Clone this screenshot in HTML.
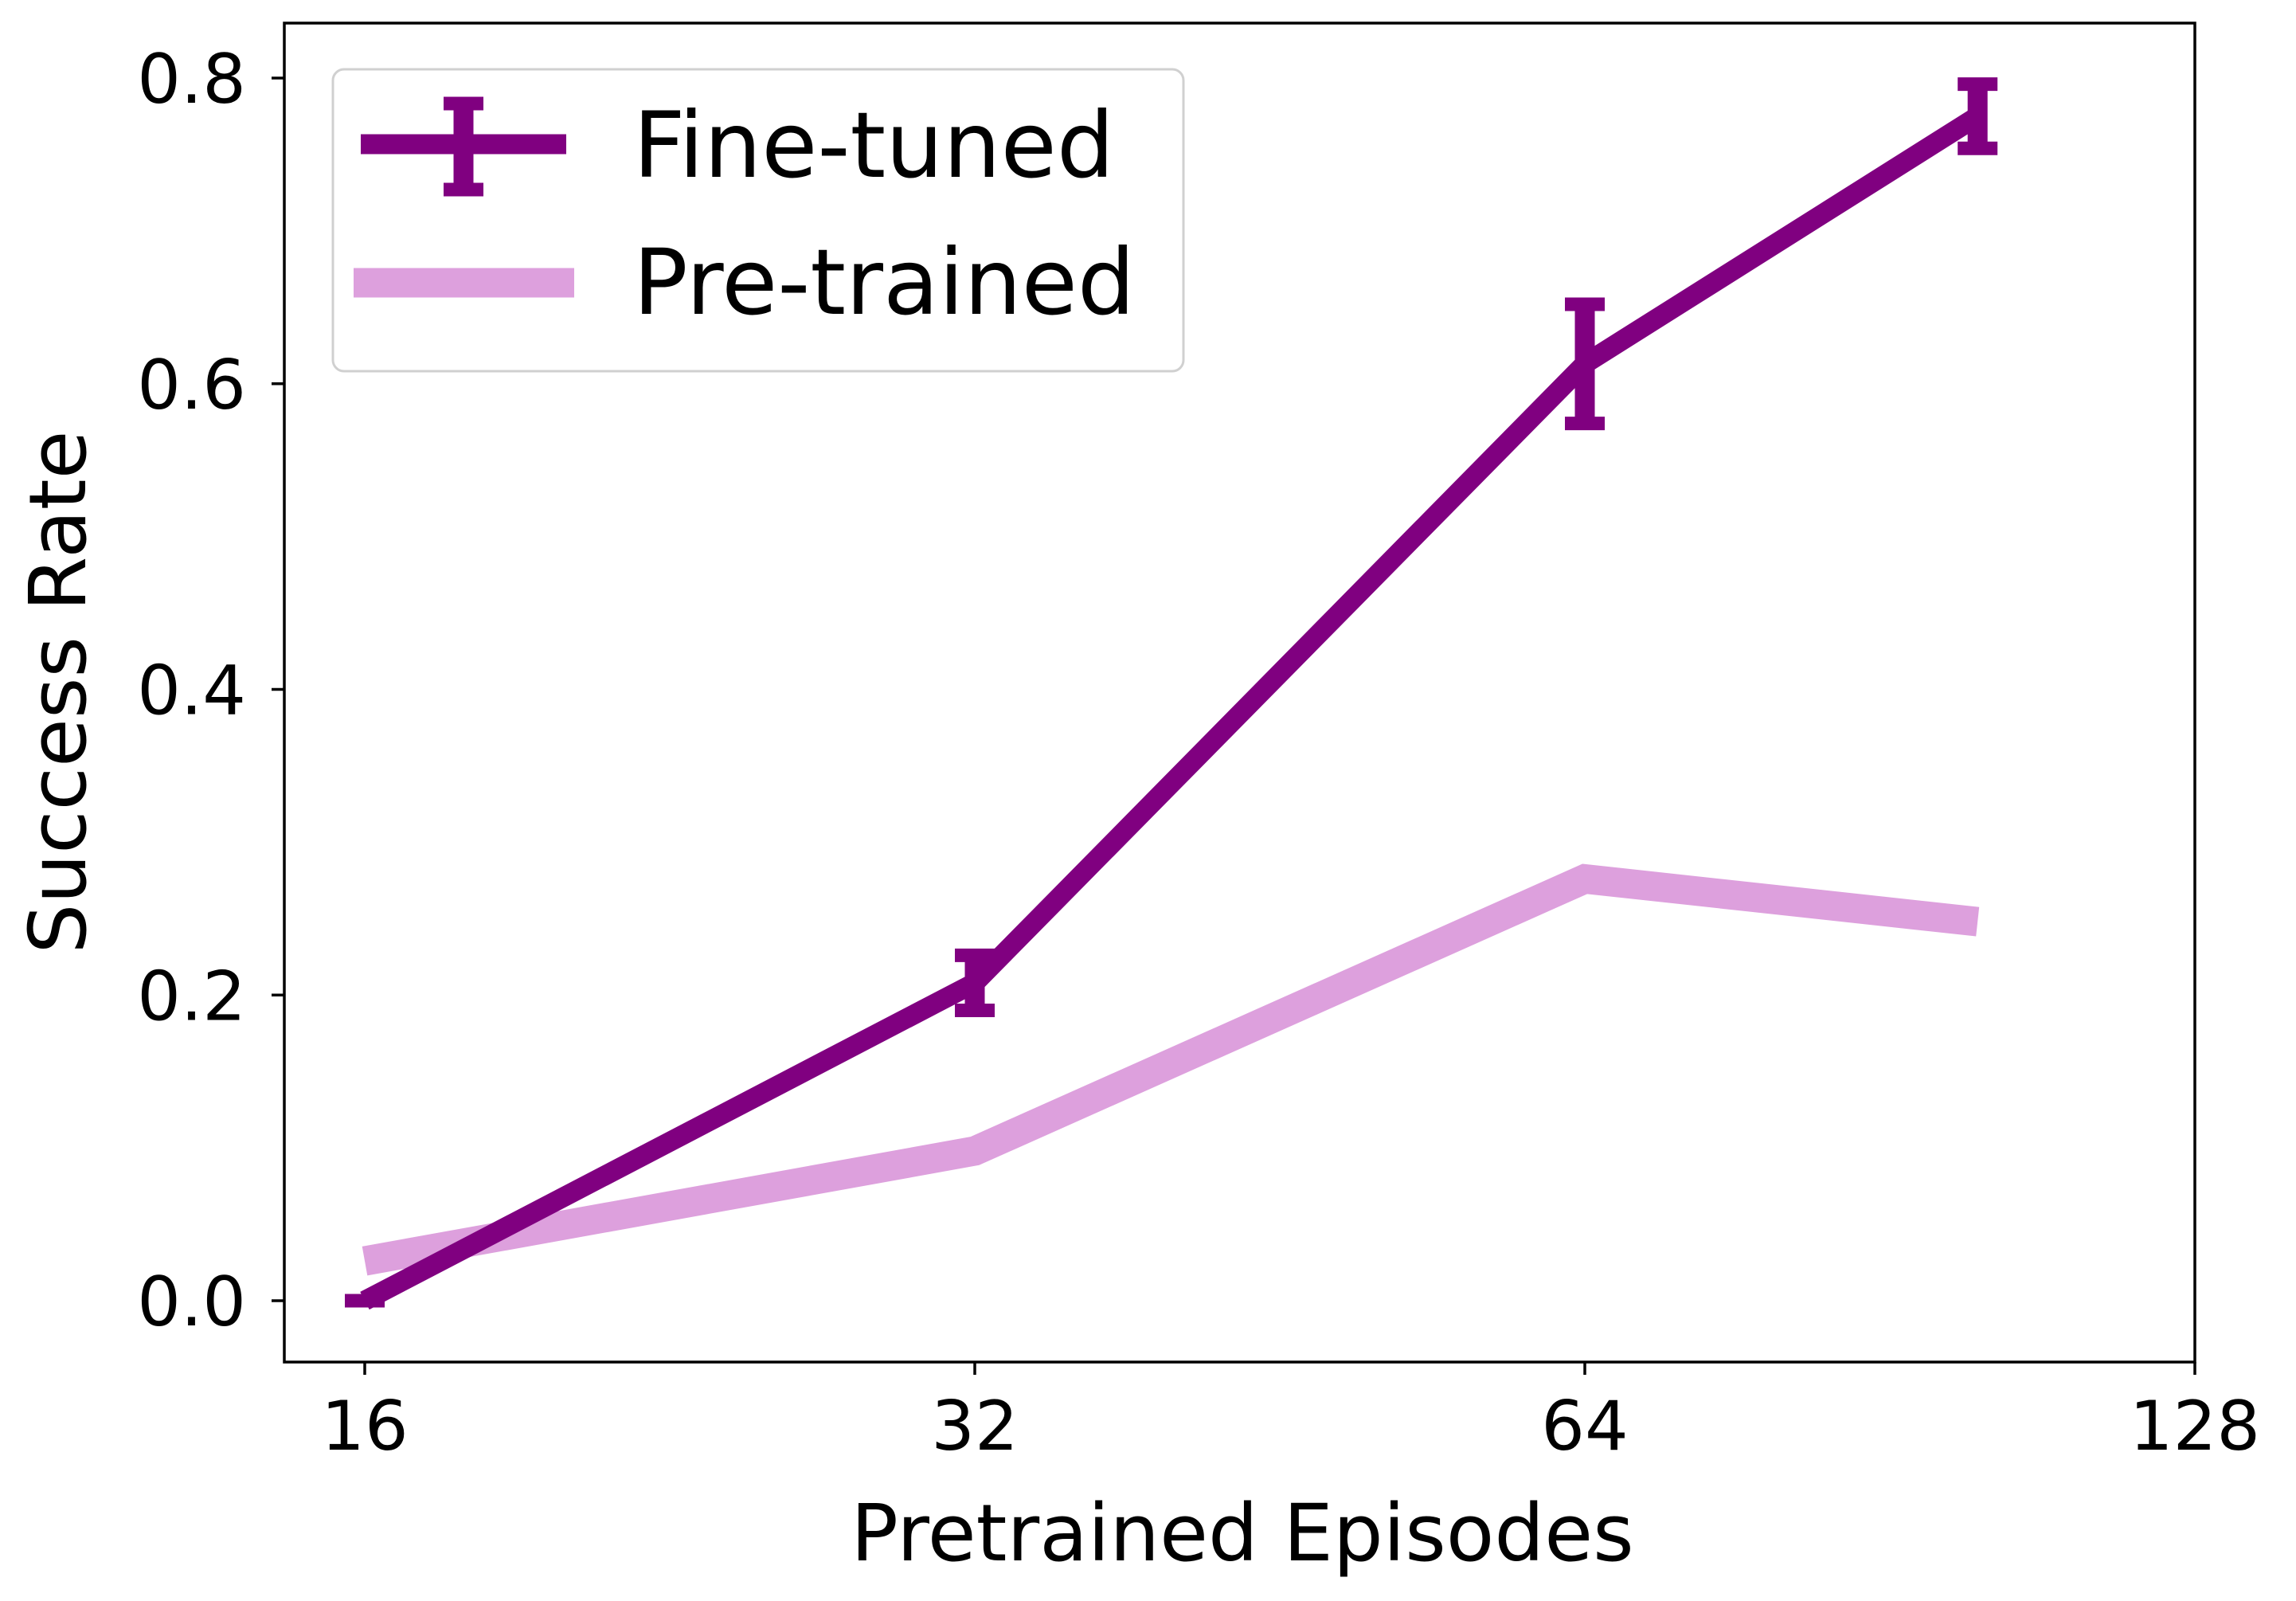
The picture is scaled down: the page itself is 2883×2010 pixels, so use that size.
<!DOCTYPE html>
<html><head><meta charset="utf-8"><style>
html,body{margin:0;padding:0;background:#fff;}
svg text{font-family:"DejaVu Sans","Liberation Sans",sans-serif;fill:#000;}
</style></head><body>
<svg id="chart" width="2883" height="2005" viewBox="0 0 2883 2005" xmlns="http://www.w3.org/2000/svg">
<rect x="0" y="0" width="2883" height="2005" fill="#fff"/>
<g id="plot"></g>
<g id="axes"></g>
<g>
  <rect x="418" y="87" width="1068" height="379" rx="14" fill="#fff" fill-opacity="0.8" stroke="#d0d0d0" stroke-width="3"/>
  <g>
    <line x1="453" y1="181" x2="711" y2="181" stroke="#800080" stroke-width="25"/>
    <line x1="582" y1="122" x2="582" y2="246" stroke="#800080" stroke-width="25"/>
    <line x1="557" y1="130" x2="607" y2="130" stroke="#800080" stroke-width="17"/>
    <line x1="557" y1="238" x2="607" y2="238" stroke="#800080" stroke-width="17"/>
    <text x="795" y="222" font-size="114">Fine-tuned</text>
  </g>
  <g>
    <line x1="444" y1="355" x2="721" y2="355" stroke="#dda0dd" stroke-width="37"/>
    <text x="795" y="394" font-size="114">Pre-trained</text>
  </g>
</g>
</svg>
<script>
const xCategories = [16, 32, 64, 100];
const fineTuned = [0.0, 0.208, 0.613, 0.775];
const fineTunedErr = [0.0, 0.018, 0.039, 0.021];
const preTrained = [0.026, 0.098, 0.276, 0.248];
const yTicks = [0.0, 0.2, 0.4, 0.6, 0.8];
const yTickLabels = ["0.0", "0.2", "0.4", "0.6", "0.8"];
const xTicks = [16, 32, 64, 128];
const xTickLabels = ["16", "32", "64", "128"];

const NS = "http://www.w3.org/2000/svg";
const L = 357, R = 2756, T = 29, B = 1710;
function xs(v){ return 458 + (Math.log2(v) - 4) * 766; }
function ys(v){ return 1633 - v * 1918.75; }
function mk(tag, attrs, parent){
  const e = document.createElementNS(NS, tag);
  for (const k in attrs) e.setAttribute(k, attrs[k]);
  parent.appendChild(e);
  return e;
}
const plot = document.getElementById('plot');
const axes = document.getElementById('axes');

// pre-trained line
const pre = mk('polyline', {points: preTrained.map((v,i)=>xs(xCategories[i])+','+ys(v)).join(' '), fill:'none', stroke:'#dda0dd', 'stroke-width':37, 'stroke-linejoin':'miter'}, plot);



// fine-tuned line
const ft = mk('polyline', {points: fineTuned.map((v,i)=>xs(xCategories[i])+','+ys(v)).join(' '), fill:'none', stroke:'#800080', 'stroke-width':25, 'stroke-linejoin':'miter'}, plot);



// error bars
fineTuned.forEach((v,i)=>{
  const x = xs(xCategories[i]);
  const y1 = ys(v + fineTunedErr[i]), y2 = ys(v - fineTunedErr[i]);
  const g = mk('g', {}, plot);
  
  
  mk('line', {x1:x, y1:y1, x2:x, y2:y2, stroke:'#800080', 'stroke-width':25}, g);
  mk('line', {x1:x-25, y1:y1, x2:x+25, y2:y1, stroke:'#800080', 'stroke-width':17}, g);
  mk('line', {x1:x-25, y1:y2, x2:x+25, y2:y2, stroke:'#800080', 'stroke-width':17}, g);
});

// spines
const frame = mk('rect', {x:L, y:T, width:R-L, height:B-T, fill:'none', stroke:'#000', 'stroke-width':3.5}, axes);



// y ticks
yTicks.forEach((v,i)=>{
  const y = ys(v);
  const t = mk('line', {x1:L-16, y1:y, x2:L, y2:y, stroke:'#000', 'stroke-width':3.5}, axes);
  
  
  const lb = mk('text', {x:309, y:y+31, 'font-size':86, 'text-anchor':'end'}, axes);
  lb.textContent = yTickLabels[i];
  
  
});
// x ticks
xTicks.forEach((v,i)=>{
  const x = xs(v);
  const t = mk('line', {x1:x, y1:B, x2:x, y2:B+16, stroke:'#000', 'stroke-width':3.5}, axes);
  
  
  const lb = mk('text', {x:x, y:1820, 'font-size':86, 'text-anchor':'middle'}, axes);
  lb.textContent = xTickLabels[i];
  
  
});
const xl = mk('text', {x:1560, y:1959, 'font-size':99, 'text-anchor':'middle'}, axes);
xl.textContent = 'Pretrained Episodes';


const yl = mk('text', {x:0, y:0, 'font-size':99, 'text-anchor':'middle', transform:'translate(107,869) rotate(-90)'}, axes);
yl.textContent = 'Success Rate';


</script>
</body></html>
